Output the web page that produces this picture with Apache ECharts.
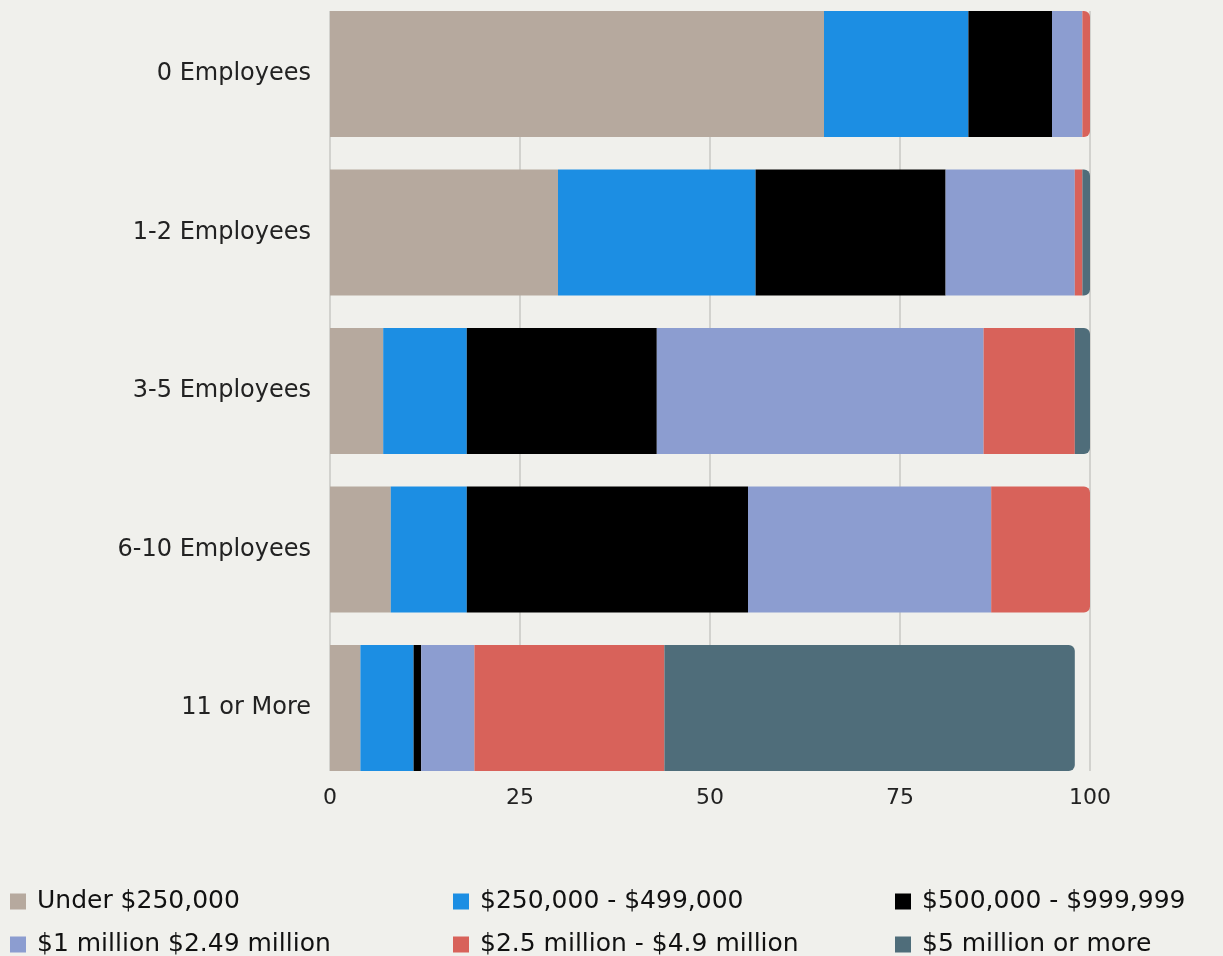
<!DOCTYPE html>
<html>
<head>
<meta charset="utf-8">
<script src="https://cdn.jsdelivr.net/npm/echarts@6/dist/echarts.min.js"></script>
<style>
  html, body { margin: 0; padding: 0; background: #f0f0ec; }
  #chart { width: 1223px; height: 956px; }
</style>
</head>
<body>
<div id="chart"></div>
<script>
// Share of businesses by revenue band, per employee-count group (percent)
const categories = ['0 Employees', '1-2 Employees', '3-5 Employees', '6-10 Employees', '11 or More'];
const seriesNames = ['Under $250,000', '$250,000 - $499,000', '$500,000 - $999,999',
                     '$1 million $2.49 million', '$2.5 million - $4.9 million', '$5 million or more'];
const under250k   = [65, 30, 7, 8, 4];
const from250k    = [19, 26, 11, 10, 7];
const from500k    = [11, 25, 25, 37, 1];
const from1m      = [4, 17, 43, 32, 7];
const from2_5m    = [1, 1, 12, 13, 25];
const over5m      = [0, 1, 2, 0, 54];
const xTicks      = [0, 25, 50, 75, 100];

const colors = ['#b6a99e', '#1c8ee3', '#000000', '#8c9dd0', '#d8625a', '#4f6d7a'];
const values = [under250k, from250k, from500k, from1m, from2_5m, over5m];

// Round the right end of the last non-empty segment of each bar
const lastIdx = categories.map((_, c) => {
  let last = 0;
  values.forEach((arr, s) => { if (arr[c] > 0) last = s; });
  return last;
});

const series = values.map((arr, s) => ({
  name: seriesNames[s],
  type: 'bar',
  stack: 'total',
  xAxisIndex: 0,
  yAxisIndex: 0,
  barWidth: 126,
  clip: false,
  itemStyle: { color: colors[s] },
  data: arr.map((v, c) => lastIdx[c] === s
    ? { value: v, itemStyle: { borderRadius: [0, 6, 6, 0] } }
    : v)
}));

const axisFont = 'DejaVu Sans';
const legendFont = 'DejaVu Sans';

// One legend entry per cell of a 3-column, 2-row block
const legendSlots = [
  [10, 889], [453, 889], [895, 889],
  [10, 932], [453, 932], [895, 932]
];
const legends = seriesNames.map((name, i) => ({
  left: legendSlots[i][0],
  top: legendSlots[i][1],
  padding: 0,
  icon: 'rect',
  itemWidth: 16,
  itemHeight: 16,
  selectedMode: false,
  data: [name],
  textStyle: {
    fontFamily: legendFont,
    fontSize: 25,
    color: '#111',
    lineHeight: 24,
    padding: [0, 0, 0, 6]
  }
}));

const chart = echarts.init(document.getElementById('chart'), null, { renderer: 'canvas' });
chart.setOption({
  backgroundColor: '#f0f0ec',
  animation: false,
  grid: [
    // bars: category positions run from first bar centre to last bar centre
    { left: 330, right: 133, top: 74, bottom: 248 },
    // grid lines and value labels span the bars only
    { left: 330, right: 133, top: 11, bottom: 185 }
  ],
  xAxis: [
    {
      gridIndex: 0, type: 'value', min: 0, max: 100, interval: 25,
      axisLine: { show: false }, axisTick: { show: false },
      axisLabel: { show: false }, splitLine: { show: false }
    },
    {
      gridIndex: 1, type: 'value', min: xTicks[0], max: xTicks[xTicks.length - 1], interval: 25,
      axisLine: { show: false }, axisTick: { show: false },
      axisLabel: {
        margin: 16, fontFamily: axisFont, fontSize: 22, color: '#222',
        formatter: v => xTicks.includes(v) ? String(v) : ''
      },
      splitLine: { show: true, lineStyle: { color: '#c8c8c4', width: 1.5 } }
    }
  ],
  yAxis: [
    {
      gridIndex: 0, type: 'category', data: categories, inverse: true, boundaryGap: false,
      axisLine: { show: false }, axisTick: { show: false },
      axisLabel: { margin: 19, fontFamily: axisFont, fontSize: 24, color: '#222', padding: [3, 0, 0, 0] },
      splitLine: { show: false }
    },
    {
      gridIndex: 1, type: 'value', min: 0, max: 1,
      axisLine: { show: false }, axisTick: { show: false },
      axisLabel: { show: false }, splitLine: { show: false }
    }
  ],
  legend: legends,
  series: series
});
</script>
</body>
</html>
